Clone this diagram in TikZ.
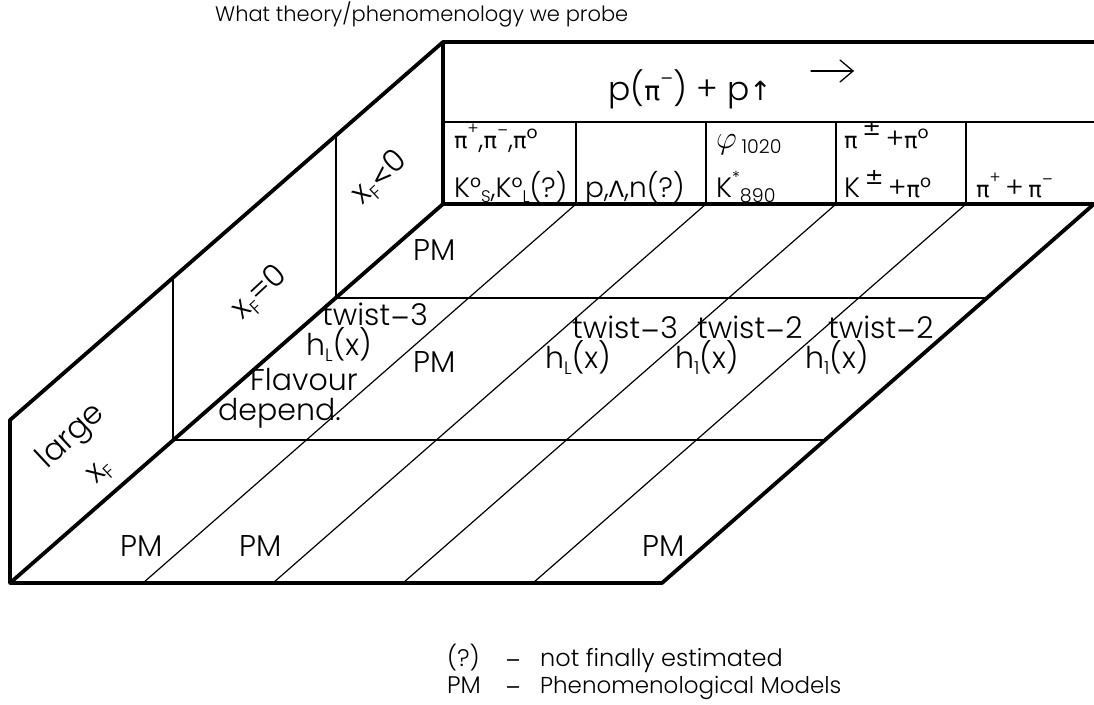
\documentclass[tikz,border=0pt]{standalone}
\usepackage{fontspec}
\setmainfont{Poppins Light}
\newfontfamily\grk{DejaVu Sans}[Scale=0.8]
\newcommand\hi[1]{\raisebox{0.5em}{\scalebox{0.6}{#1}}}
\newcommand\lo[1]{\raisebox{-0.2em}{\scalebox{0.6}{#1}}}
\begin{document}
\begin{tikzpicture}[x=1pt,y=-1pt,
  thickl/.style={line width=3.8pt, line cap=round, line join=round},
  thinl/.style={line width=1.2pt},
  arrowl/.style={line width=1.3pt, line cap=round, line join=miter},
  big/.style={font=\fontsize{30}{32}\selectfont, inner sep=0pt, anchor=base west},
  rot/.style={font=\fontsize{31}{33}\selectfont, inner sep=0pt, anchor=center, rotate=43},
  cell/.style={font=\fontsize{28}{30}\selectfont, inner sep=0pt, anchor=base west},
  title/.style={font=\fontsize{21}{23}\selectfont, inner sep=0pt, anchor=base west},
  legend/.style={font=\fontsize{24}{26}\selectfont, inner sep=0pt, anchor=base west}]
\useasboundingbox (0,0) rectangle (1094,704);
% corner coordinates
\coordinate (A) at (10,583);
\coordinate (B) at (662,583);
\coordinate (C) at (1094,204);
\coordinate (D) at (443,204);
\coordinate (E) at (10,420);
\coordinate (F) at (443,42);
\coordinate (G) at (1094,42);
\coordinate (H) at (1094,122);
\coordinate (I) at (443,122);
% table column tops / bottoms and floor stripes
\foreach \n/\x in {1/576,2/706,3/836,4/966}{
  \coordinate (t\n) at (\x,122);
  \coordinate (b\n) at (\x,204);
  \coordinate (f\n) at (\x-433,583);
}
% wall / floor row coordinates
\coordinate (w1t) at (336,136);
\coordinate (w1b) at (336,298);
\coordinate (r1e) at (987,298);
\coordinate (w2t) at (173,278);
\coordinate (w2b) at (173,440);
\coordinate (r2e) at (825,440);
% thin lines
\draw[thinl] (I) -- (H);
\foreach \n in {1,2,3,4}{
  \draw[thinl] (t\n) -- (b\n);
  \draw[thinl] (b\n) -- (f\n);
}
\draw[thinl] (w1t) -- (w1b) -- (r1e);
\draw[thinl] (w2t) -- (w2b) -- (r2e);
% thick outline
\draw[thickl] (G) -- (F) -- (E) -- (A) -- (B) -- (C) -- (D) -- (F);
\draw[thickl] (A) -- (D);
% title
\node[title] (ttl) at (215,21) {What theory/phenomenology we probe};
\node[font=\fontsize{33}{35}\selectfont, inner sep=0pt, anchor=base west] (beam) at (608,100)
  {p({\grk π}\hi{\grk −}) + p{\grk ↑}};
% beam direction arrow
\coordinate (as) at (811,71);
\coordinate (ae) at (853,71);
\coordinate (au) at (840,60);
\coordinate (ad) at (840,82);
\draw[arrowl] (as) -- (ae);
\draw[arrowl] (au) -- (ae) -- (ad);
% table cells
\node[cell] (c11) at (454,148) {{\grk π}\hi{+},{\grk π}\hi{\grk −},{\grk π}°};
\node[cell] (c12) at (454,197) {K°\lo{S},K°\lo{L}(?)};
\node[cell] (c22) at (585,197) {p,{\grk Λ},n(?)};
\node[cell] (c31) at (716,148) {\scalebox{1.3}{$\varphi$}\,\raisebox{-0.2em}{\scalebox{0.68}{1020}}};
\node[cell] (c32) at (716,197) {K\hi{*}\raisebox{-0.2em}{\scalebox{0.68}{890}}};
\node[cell] (c41) at (844,148) {{\grk π}\,\raisebox{0.45em}{\grk ±}\,+{\grk π}°};
\node[cell] (c42) at (844,197) {K\,\raisebox{0.45em}{\grk ±}\,+{\grk π}°};
\node[cell] (c52) at (976,197) {{\grk π}\hi{+}\,+\,{\grk π}\hi{\grk −}};
% side wall labels
\node[rot] (lg) at (72,437) {large};
\node[rot] (lgx) at (101,473) {x\lo{F}};
\node[rot] (xf0) at (260,293) {x\lo{F}=0};
\node[rot] (xfn) at (380,178) {x\lo{F}{\grk <}0};
% floor labels
\node[big] (pm1) at (413,260) {PM};
\node[big] (tw3l) at (322,325) {twist{\grk −}3};
\node[big] (hll) at (306,355) {h\lo{L}(x)};
\node[big] (pm2) at (413,372) {PM};
\node[big] (flav) at (250,390) {Flavour};
\node[big] (dep) at (218,420) {depend.};
\node[big] (tw3m) at (572,338) {twist{\grk −}3};
\node[big] (hlm) at (545,368) {h\lo{L}(x)};
\node[big] (tw2a) at (697,338) {twist{\grk −}2};
\node[big] (h1a) at (675,368) {h\lo{1}(x)};
\node[big] (tw2b) at (828,338) {twist{\grk −}2};
\node[big] (h1b) at (805,368) {h\lo{1}(x)};
\node[big] (pm3) at (120,556) {PM};
\node[big] (pm4) at (239,556) {PM};
\node[big] (pm5) at (642,556) {PM};
% legend
\node[legend] (lg1) at (447,666) {\makebox[58pt][l]{(?)}\makebox[35pt][l]{\grk −}not finally estimated};
\node[legend, font=\fontsize{23}{25}\selectfont] (lg2) at (447,693) {\makebox[58pt][l]{\fontsize{24}{26}\selectfont PM}\makebox[35pt][l]{\fontsize{24}{26}\selectfont\grk −}Phenomenological Models};
\end{tikzpicture}
\end{document}
